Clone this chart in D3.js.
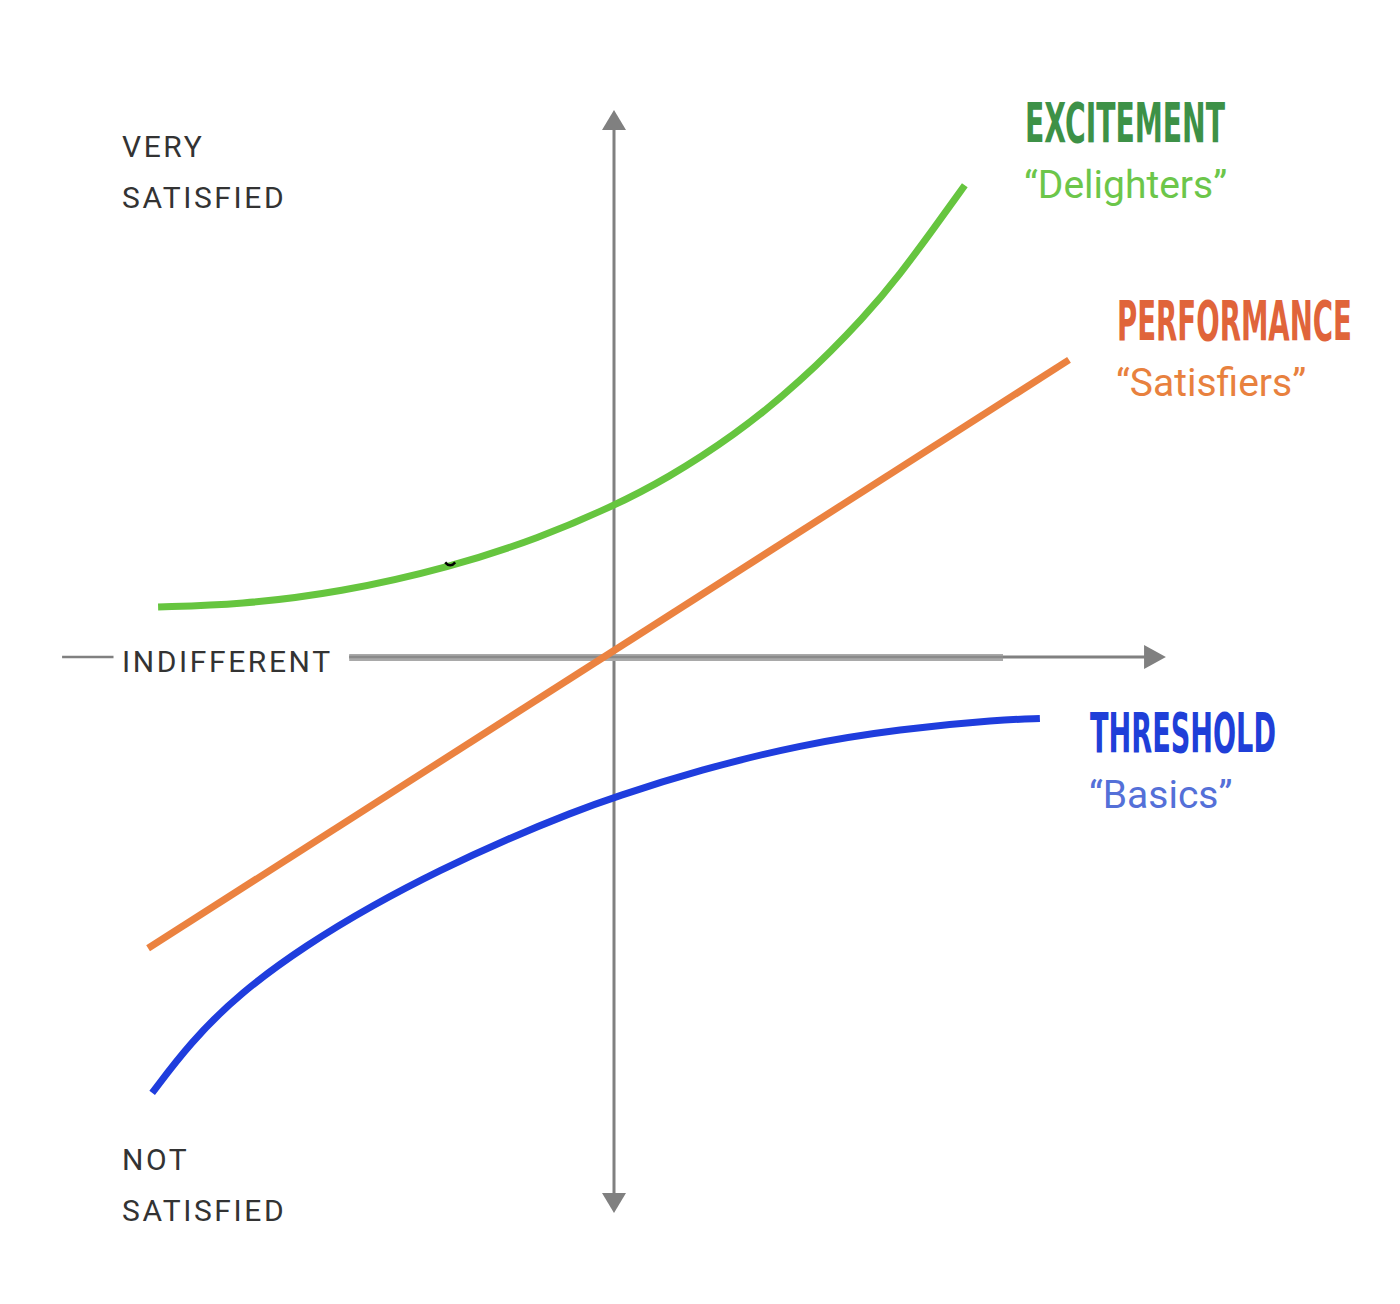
<!DOCTYPE html>
<html>
<head>
<meta charset="utf-8">
<script src="https://cdn.jsdelivr.net/npm/d3@7/dist/d3.min.js"></script>
<style>
  html, body { margin: 0; padding: 0; background: #ffffff; }
  svg { display: block; }
</style>
</head>
<body>
<svg id="chart" width="1400" height="1304"></svg>
<script>
// ---- Data (abstract units: x = implementation, y = satisfaction) ----
const excitement = [
  [-10.02, 1.10], [-8.22, 1.15], [-6.02, 1.42], [-3.60, 1.97], [-1.63, 2.62],
  [0, 3.32], [1.16, 3.92], [2.62, 4.85], [4.09, 6.03], [5.56, 7.53],
  [6.29, 8.42], [7.01, 9.39], [7.71, 10.37]
];
const performance = [[-10.24, -6.40], [10.0, 6.53]];
const threshold = [
  [-10.15, -9.58], [-9.32, -8.48], [-8.22, -7.38], [-6.75, -6.32], [-5.30, -5.45],
  [-3.82, -4.68], [-2.35, -4.00], [-0.90, -3.41], [0, -3.08], [1.89, -2.48],
  [4.09, -1.93], [6.29, -1.58], [8.48, -1.38], [9.36, -1.35]
];
const seriesNames = ["EXCITEMENT", "PERFORMANCE", "THRESHOLD"];
const seriesSubtitles = ["\u201cDelighters\u201d", "\u201cSatisfiers\u201d", "\u201cBasics\u201d"];
const axisLabelsTop = ["VERY", "SATISFIED"];
const axisLabelsBottom = ["NOT", "SATISFIED"];
const axisLabelMid = "INDIFFERENT";
const strayMark = [-3.6, 1.97];

// ---- Layout ----
const svg = d3.select("#chart");
const x = d3.scaleLinear().domain([-10, 10]).range([159, 1069]);
const y = d3.scaleLinear().domain([-10, 10]).range([1112, 202]);

const axisColor = "#808080";
const x0 = x(0), y0 = y(0);

// vertical axis
svg.append("line").attr("x1", x0).attr("x2", x0)
  .attr("y1", y(11.6)).attr("y2", y(-11.8))
  .attr("stroke", axisColor).attr("stroke-width", 3);
svg.append("path")
  .attr("d", `M${x0},${y(12.02)} L${x0 + 12},${y(11.58)} L${x0 - 12},${y(11.58)} Z`)
  .attr("fill", axisColor);
svg.append("path")
  .attr("d", `M${x0},${y(-12.22)} L${x0 + 12},${y(-11.78)} L${x0 - 12},${y(-11.78)} Z`)
  .attr("fill", axisColor);

// horizontal axis
svg.append("line").attr("x1", x(-12.13)).attr("x2", x(-11.0))
  .attr("y1", y0).attr("y2", y0)
  .attr("stroke", axisColor).attr("stroke-width", 2.5);
svg.append("line").attr("x1", x(-5.82)).attr("x2", x(11.7))
  .attr("y1", y0).attr("y2", y0)
  .attr("stroke", axisColor).attr("stroke-width", 3);
svg.append("line").attr("x1", x(-5.82)).attr("x2", x(8.55))
  .attr("y1", y0 + 0.5).attr("y2", y0 + 0.5)
  .attr("stroke", "#a9a9a9").attr("stroke-width", 7);
svg.append("line").attr("x1", x(-5.82)).attr("x2", x(8.55))
  .attr("y1", y0).attr("y2", y0)
  .attr("stroke", "#8a8a8a").attr("stroke-width", 2.5);
svg.append("path")
  .attr("d", `M${x(12.13)},${y0} L${x(11.65)},${y0 - 12} L${x(11.65)},${y0 + 12} Z`)
  .attr("fill", axisColor);

// ---- Curves ----
const line = d3.line().x(d => x(d[0])).y(d => y(d[1])).curve(d3.curveBasis);
const curves = [
  { data: excitement, color: "#66c53f" },
  { data: performance, color: "#eb8240" },
  { data: threshold, color: "#1f3ddd" }
];
curves.forEach(c => {
  svg.append("path").attr("d", line(c.data))
    .attr("fill", "none").attr("stroke", c.color)
    .attr("stroke-width", 7).attr("stroke-linecap", "butt");
});

// small stray mark on the excitement curve
svg.append("path")
  .attr("d", `M${x(strayMark[0]) - 5},${y(strayMark[1]) - 5} Q${x(strayMark[0])},${y(strayMark[1]) + 1} ${x(strayMark[0]) + 5},${y(strayMark[1]) - 5}`)
  .attr("fill", "none").attr("stroke", "#000").attr("stroke-width", 2.5);

// ---- Series labels ----
const labelDefs = [
  { name: seriesNames[0], sub: seriesSubtitles[0], x: 1025, y: 142, w: 200, c: "#3d9147", sc: "#6cc64a" },
  { name: seriesNames[1], sub: seriesSubtitles[1], x: 1117, y: 340, w: 235, c: "#e0643a", sc: "#e8813e" },
  { name: seriesNames[2], sub: seriesSubtitles[2], x: 1090, y: 752, w: 186, c: "#1f3fd8", sc: "#5470d8" }
];
labelDefs.forEach(l => {
  const t = svg.append("text").attr("x", 0).attr("y", 0)
    .attr("font-family", "'Liberation Sans Narrow', 'DejaVu Sans Condensed', 'Roboto Condensed', sans-serif")
    .attr("font-weight", "bold").attr("font-size", 55)
    .attr("fill", l.c).text(l.name);
  const natural = t.node().getComputedTextLength();
  t.attr("transform", `translate(${l.x},${l.y}) scale(${l.w / natural},1)`);
  svg.append("text").attr("x", l.x - 1).attr("y", l.y + 56)
    .attr("font-family", "Roboto, sans-serif")
    .attr("font-size", 39)
    .attr("fill", l.sc).text(l.sub);
});

// ---- Axis labels ----
const axisText = (t, px, py) => svg.append("text").attr("x", px).attr("y", py)
  .attr("font-family", "Roboto, sans-serif").attr("font-size", 30)
  .attr("letter-spacing", 2.6).attr("fill", "#333333").text(t);
axisText(axisLabelsTop[0], 122, 157);
axisText(axisLabelsTop[1], 122, 208);
axisText(axisLabelMid, 122, 672);
axisText(axisLabelsBottom[0], 122, 1170);
axisText(axisLabelsBottom[1], 122, 1221);
</script>
</body>
</html>
